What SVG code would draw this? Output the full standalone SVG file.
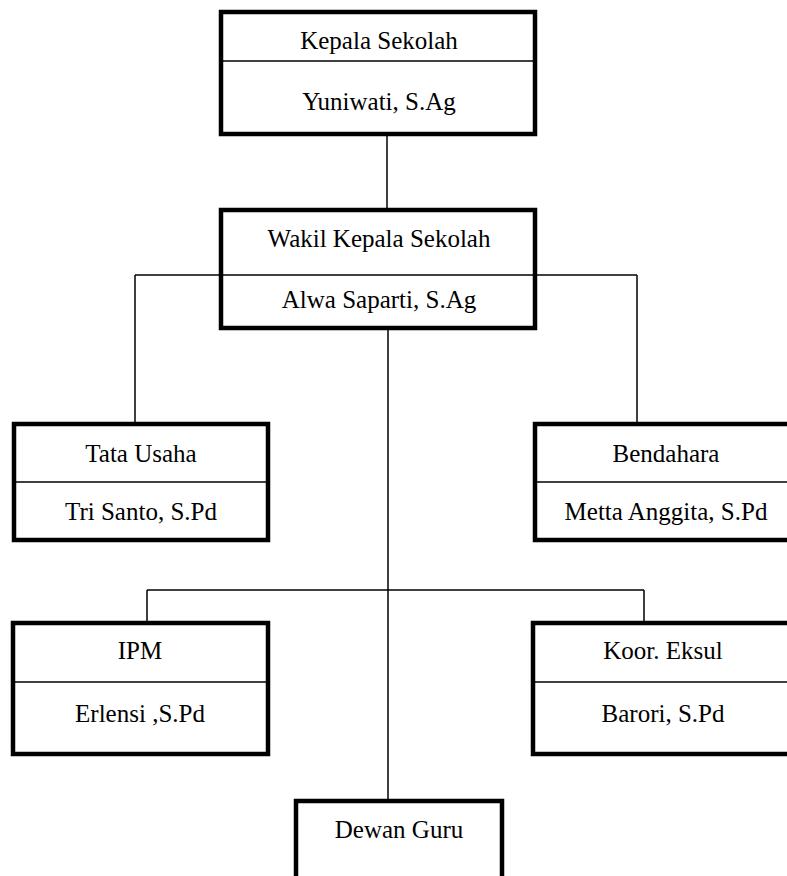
<svg xmlns="http://www.w3.org/2000/svg" width="787" height="876" viewBox="0 0 787 876">
<style>
.box{fill:#fff;stroke:#000;stroke-width:4.5;stroke-linejoin:miter}
.div{stroke:#000;stroke-width:1.5;fill:none}
.con{stroke:#000;stroke-width:1.5;fill:none}
text{font-family:"Liberation Serif","Times New Roman",serif;font-size:25px;fill:#000;text-anchor:middle}
</style>
<rect width="787" height="876" fill="#fff"/>
<g id="connectors">
<line class="con" x1="387" y1="134" x2="387" y2="210"/>
<line class="con" x1="135" y1="275" x2="637" y2="275"/>
<line class="con" x1="135" y1="275" x2="135" y2="424"/>
<line class="con" x1="637" y1="275" x2="637" y2="424"/>
<line class="con" x1="388" y1="328" x2="388" y2="801"/>
<line class="con" x1="147" y1="590" x2="644" y2="590"/>
<line class="con" x1="147" y1="590" x2="147" y2="623"/>
<line class="con" x1="644" y1="590" x2="644" y2="623"/>
</g>
<g id="kepala">
<rect class="box" x="221" y="12" width="314" height="122"/>
<line class="div" x1="221" y1="61" x2="535" y2="61"/>
<text x="379" y="49">Kepala Sekolah</text>
<text x="379" y="110">Yuniwati, S.Ag</text>
</g>
<g id="wakil">
<rect class="box" x="221" y="210" width="314" height="118"/>
<line class="div" x1="221" y1="275" x2="535" y2="275"/>
<text x="379" y="247">Wakil Kepala Sekolah</text>
<text x="379" y="308">Alwa Saparti, S.Ag</text>
</g>
<g id="tatausaha">
<rect class="box" x="14" y="424" width="254" height="116"/>
<line class="div" x1="14" y1="482" x2="268" y2="482"/>
<text x="141" y="462">Tata Usaha</text>
<text x="141" y="520">Tri Santo, S.Pd</text>
</g>
<g id="bendahara">
<rect class="box" x="535" y="424" width="262" height="116"/>
<line class="div" x1="535" y1="482" x2="797" y2="482"/>
<text x="666" y="462">Bendahara</text>
<text x="666" y="520">Metta Anggita, S.Pd</text>
</g>
<g id="ipm">
<rect class="box" x="13" y="623" width="255" height="131"/>
<line class="div" x1="13" y1="682" x2="268" y2="682"/>
<text x="140" y="659">IPM</text>
<text x="140" y="722">Erlensi ,S.Pd</text>
</g>
<g id="koor">
<rect class="box" x="533" y="623" width="262" height="131"/>
<line class="div" x1="533" y1="682" x2="795" y2="682"/>
<text x="663" y="659">Koor. Eksul</text>
<text x="663" y="722">Barori, S.Pd</text>
</g>
<g id="dewan">
<rect class="box" x="296" y="801" width="206" height="100"/>
<text x="399" y="838">Dewan Guru</text>
</g>
</svg>
